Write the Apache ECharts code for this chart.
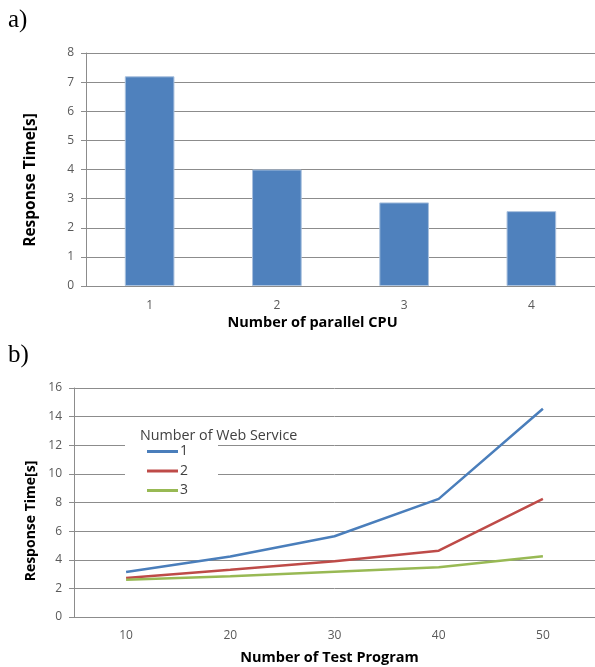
<!DOCTYPE html>
<html><head><meta charset="utf-8">
<script src="https://cdn.jsdelivr.net/npm/echarts@6/dist/echarts.min.js"></script>
<style>html,body{margin:0;padding:0;background:#fff}#c{width:595px;height:667px}</style>
</head><body><div id="c"></div>
<script>
const cpuCategories = ['1', '2', '3', '4'];
const cpuResponse = [7.2, 4.0, 2.87, 2.57];
const testCategories = ['10', '20', '30', '40', '50'];
const ws1 = [3.15, 4.22, 5.64, 8.25, 14.55];
const ws2 = [2.72, 3.3, 3.89, 4.63, 8.25];
const ws3 = [2.6, 2.85, 3.17, 3.47, 4.24];
const seriesNames = ['1', '2', '3'];

const font = 'Open Sans';
const grid = '#8c8c8c';
const lab = '#595959';
const chart = echarts.init(document.getElementById('c'));
chart.setOption({
  animation: false,
  textStyle: {fontFamily: font},
  title: [
    {text: 'a)', left: 3, top: 3, textStyle: {fontFamily: 'Liberation Serif', fontSize: 25, fontWeight: 'normal', color: '#000'}},
    {text: 'b)', left: 3, top: 338, textStyle: {fontFamily: 'Liberation Serif', fontSize: 25, fontWeight: 'normal', color: '#000'}},
    {text: 'Number of Web Service', left: 135, top: 424, textStyle: {fontFamily: font, fontSize: 14.3, fontWeight: 'normal', color: '#404040'}}
  ],
  graphic: [
    {type: 'text', x: 31, y: 180, rotation: Math.PI / 2,
     style: {text: 'Response Time[s]', fontFamily: font, fontSize: 15.5, fontWeight: 'bold', fill: '#000', align: 'center', verticalAlign: 'middle'}},
    {type: 'text', x: 31, y: 521, rotation: Math.PI / 2,
     style: {text: 'Response Time[s]', fontFamily: font, fontSize: 14, fontWeight: 'bold', fill: '#000', align: 'center', verticalAlign: 'middle'}}
  ],
  legend: {
    data: seriesNames, orient: 'vertical', left: 125, top: 421,
    padding: [23, 30, 1, 22], backgroundColor: '#fff',
    icon: 'rect', itemWidth: 31, itemHeight: 3, itemGap: 4.5,
    itemStyle: {borderWidth: 0},
    textStyle: {fontFamily: font, fontSize: 14, lineHeight: 15, color: '#404040', padding: [0, 0, 0, -3]}
  },
  grid: [
    {left: 86, top: 53, width: 512, height: 233},
    {left: 74, top: 388, width: 523, height: 229}
  ],
  xAxis: [
    {gridIndex: 0, type: 'category', data: cpuCategories,
     axisLine: {lineStyle: {color: grid}}, axisTick: {length: 5, lineStyle: {color: grid}},
     axisLabel: {color: lab, fontSize: 12, margin: 14},
     name: 'Number of parallel CPU', nameLocation: 'middle', nameGap: 29,
     nameTextStyle: {fontFamily: font, fontSize: 14.5, fontWeight: 'bold', color: '#000', padding: [0, 56, 0, 0]}},
    {gridIndex: 1, type: 'category', data: testCategories,
     axisLine: {lineStyle: {color: grid}}, axisTick: {length: 5, lineStyle: {color: grid}},
     axisLabel: {color: lab, fontSize: 12, margin: 13},
     name: 'Number of Test Program', nameLocation: 'middle', nameGap: 33,
     nameTextStyle: {fontFamily: font, fontSize: 14.5, fontWeight: 'bold', color: '#000', padding: [0, 10, 0, 0]}}
  ],
  yAxis: [
    {gridIndex: 0, type: 'value', min: 0, max: 8, interval: 1,
     axisLine: {show: true, lineStyle: {color: grid}}, axisTick: {show: true, length: 5, lineStyle: {color: grid}},
     splitLine: {lineStyle: {color: grid}},
     axisLabel: {color: lab, fontSize: 12, margin: 12}},
    {gridIndex: 1, type: 'value', min: 0, max: 16, interval: 2,
     axisLine: {show: true, lineStyle: {color: grid}}, axisTick: {show: true, length: 5, lineStyle: {color: grid}},
     splitLine: {lineStyle: {color: grid}},
     axisLabel: {color: lab, fontSize: 12, margin: 12}}
  ],
  series: [
    {type: 'bar', xAxisIndex: 0, yAxisIndex: 0, data: cpuResponse, barWidth: '39%',
     itemStyle: {color: '#4F81BD', borderColor: '#a9c1de', borderWidth: 1}},
    {type: 'line', name: seriesNames[0], xAxisIndex: 1, yAxisIndex: 1, data: ws1, symbol: 'none', lineStyle: {width: 2.5}, itemStyle: {color: '#4A7EBB'}, color: '#4A7EBB'},
    {type: 'line', name: seriesNames[1], xAxisIndex: 1, yAxisIndex: 1, data: ws2, symbol: 'none', lineStyle: {width: 2.5}, itemStyle: {color: '#BE4B48'}, color: '#BE4B48'},
    {type: 'line', name: seriesNames[2], xAxisIndex: 1, yAxisIndex: 1, data: ws3, symbol: 'none', lineStyle: {width: 2.5}, itemStyle: {color: '#98B954'}, color: '#98B954'}
  ]
});
</script></body></html>
